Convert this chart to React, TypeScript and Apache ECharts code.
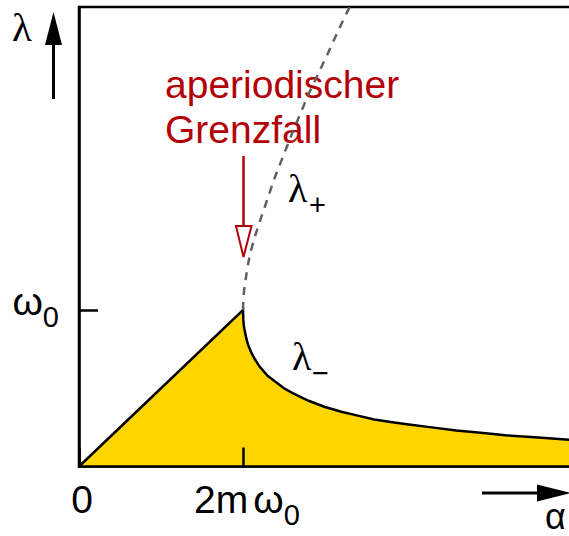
import React, { useEffect, useRef } from 'react';
import * as echarts from 'echarts';

// λ− branch (solid, bounds the yellow area): x in units of 2mω0, y in units of ω0
const lowerX = [0, 1, 1.002, 1.005, 1.01, 1.02, 1.03, 1.05, 1.07, 1.1, 1.15, 1.2, 1.25, 1.3, 1.4, 1.5, 1.6, 1.7, 1.8, 1.9, 2.0, 2.15, 2.3, 2.45, 2.6, 2.8, 3.0, 3.05];
const lowerY = [0, 1, 0.94, 0.9, 0.87, 0.82, 0.78, 0.73, 0.69, 0.64, 0.58, 0.54, 0.5, 0.47, 0.42, 0.38, 0.35, 0.325, 0.3, 0.285, 0.27, 0.25, 0.23, 0.215, 0.2, 0.185, 0.17, 0.168];

// λ+ branch (dashed)
const upperX = [1, 1.002, 1.006, 1.01, 1.024, 1.043, 1.073, 1.104, 1.146, 1.195, 1.244, 1.3, 1.4, 1.518, 1.561, 1.61, 1.68, 1.74];
const upperY = [1, 1.065, 1.12, 1.15, 1.25, 1.36, 1.47, 1.57, 1.7, 1.85, 1.98, 2.13, 2.38, 2.64, 2.74, 2.85, 3.0, 3.13];

// tick labels
const xTickValues = [0, 1];
const xTickLabels = ['{z|0}', '{a|2m}{w|ω}{s|0}'];
const yTickValues = [1];
const yTickLabels = ['{w|ω}{s|0}'];

const SANS = 'Liberation Sans';
const SERIF = 'Liberation Serif';
const RED = '#b30008';

const option: any = {
  animation: false,
  backgroundColor: '#ffffff',
  grid: {
    left: 79,
    top: 7,
    width: 500,
    height: 459.5,
    outerBoundsMode: 'none',
    containLabel: false,
    show: true,
    borderColor: '#000',
    borderWidth: 2.5,
    backgroundColor: 'transparent',
  },
  xAxis: {
    type: 'value',
    min: 0,
    max: 3.049,
    z: 5,
    splitLine: { show: false },
    axisLine: { show: true, lineStyle: { color: '#000', width: 2.5 } },
    axisTick: {
      show: true,
      customValues: xTickValues,
      inside: true,
      length: 19,
      lineStyle: { color: '#000', width: 2.5 },
    },
    axisLabel: {
      show: true,
      customValues: xTickValues,
      margin: 2.5,
      formatter: (v: number) => xTickLabels[xTickValues.indexOf(v)] ?? '',
      rich: {
        z: { fontSize: 39, fontFamily: SANS, color: '#000', lineHeight: 60, padding: [0, 0, 0, 6] },
        a: { fontSize: 39, fontFamily: SANS, color: '#000', lineHeight: 60, padding: [0, 0, 0, 8] },
        w: { fontSize: 39, fontFamily: SANS, color: '#000', lineHeight: 60, padding: [0, 0, 0, 5] },
        s: { fontSize: 29, fontFamily: SANS, color: '#000', lineHeight: 29, verticalAlign: 'bottom' },
      },
    },
  },
  yAxis: {
    type: 'value',
    min: 0,
    max: 2.936,
    z: 5,
    splitLine: { show: false },
    axisLine: { show: true, lineStyle: { color: '#000', width: 2.5 } },
    axisTick: {
      show: true,
      customValues: yTickValues,
      inside: true,
      length: 19,
      lineStyle: { color: '#000', width: 2.5 },
    },
    axisLabel: {
      show: true,
      customValues: yTickValues,
      margin: 20,
      padding: [0, 0, 16, 0],
      formatter: (v: number) => yTickLabels[yTickValues.indexOf(v)] ?? '',
      rich: {
        w: { fontSize: 39, fontFamily: SANS, color: '#000', lineHeight: 60 },
        s: { fontSize: 29, fontFamily: SANS, color: '#000', lineHeight: 29, verticalAlign: 'bottom' },
      },
    },
  },
  series: [
    {
      type: 'line',
      data: lowerX.map((x, i) => [x, lowerY[i]]),
      showSymbol: false,
      symbol: 'none',
      clip: true,
      z: 2,
      lineStyle: { color: '#000', width: 2.5, join: 'miter' },
      areaStyle: { color: '#ffd500', opacity: 1 },
    },
    {
      type: 'line',
      data: upperX.map((x, i) => [x, upperY[i]]),
      showSymbol: false,
      symbol: 'none',
      clip: true,
      z: 3,
      lineStyle: { color: '#606060', width: 2.5, type: [8, 7] },
    },
  ],
  graphic: [
    // y-axis arrow and λ
    { type: 'line', shape: { x1: 53.5, y1: 42, x2: 53.5, y2: 99 }, style: { stroke: '#000', lineWidth: 3 } },
    { type: 'polygon', shape: { points: [[53.5, 12], [45, 45], [62, 45]] }, style: { fill: '#000' } },
    { type: 'text', x: 12, y: 26.5, style: { text: 'λ', font: `41px "${SERIF}"`, fill: '#000', align: 'left', verticalAlign: 'middle' } },
    // x-axis arrow and α
    { type: 'line', shape: { x1: 482, y1: 493, x2: 542, y2: 493 }, style: { stroke: '#000', lineWidth: 3 } },
    { type: 'polygon', shape: { points: [[537, 484.5], [571, 493], [537, 501.5]] }, style: { fill: '#000' } },
    { type: 'text', x: 545, y: 516, style: { text: 'α', font: `36px "${SANS}"`, fill: '#000', align: 'left', verticalAlign: 'middle' } },
    // λ+ label
    { type: 'text', x: 288, y: 188.5, style: { text: 'λ', font: `40px "${SERIF}"`, fill: '#000', align: 'left', verticalAlign: 'middle' } },
    { type: 'text', x: 309, y: 205, style: { text: '+', font: `29px "${SANS}"`, fill: '#000', align: 'left', verticalAlign: 'middle' } },
    // λ− label
    { type: 'text', x: 292, y: 356.5, style: { text: 'λ', font: `40px "${SERIF}"`, fill: '#000', align: 'left', verticalAlign: 'middle' } },
    { type: 'text', x: 312, y: 373, style: { text: '−', font: `29px "${SANS}"`, fill: '#000', align: 'left', verticalAlign: 'middle' } },
    // red annotation
    { type: 'text', x: 165, y: 84, style: { text: 'aperiodischer', font: `39px "${SANS}"`, fill: RED, align: 'left', verticalAlign: 'middle' } },
    { type: 'text', x: 165, y: 129, style: { text: 'Grenzfall', font: `39px "${SANS}"`, fill: RED, align: 'left', verticalAlign: 'middle' } },
    { type: 'line', shape: { x1: 243.5, y1: 156, x2: 243.5, y2: 226 }, style: { stroke: RED, lineWidth: 2.5 } },
    { type: 'polygon', shape: { points: [[236, 226], [251.5, 226], [243.5, 257]] }, style: { fill: '#fff', stroke: RED, lineWidth: 2 } },
  ],
};

export default function App() {
  const ref = useRef<HTMLDivElement>(null);
  useEffect(() => {
    const chart = echarts.init(ref.current!, null, { renderer: 'svg' });
    chart.setOption(option);
    return () => chart.dispose();
  }, []);
  return <div ref={ref} style={{ position: 'absolute', left: 0, top: 0, width: 569, height: 536 }} />;
}
